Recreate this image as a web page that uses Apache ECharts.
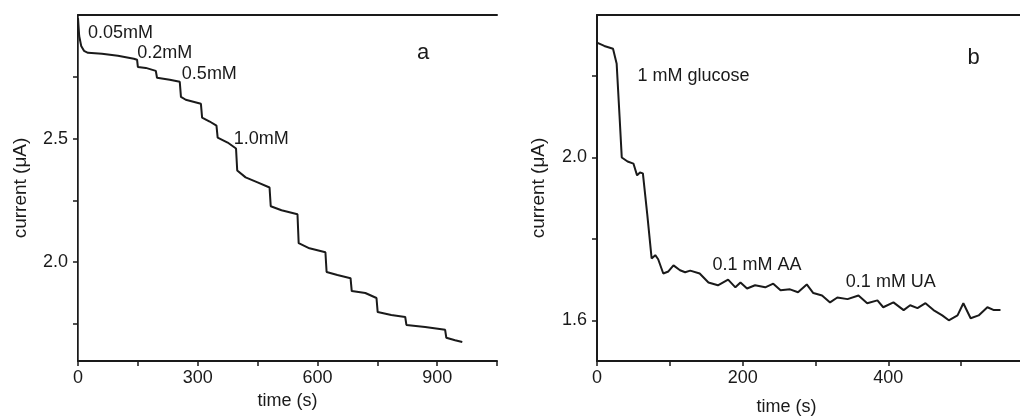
<!DOCTYPE html>
<html>
<head>
<meta charset="utf-8">
<script src="https://cdn.jsdelivr.net/npm/echarts@6/dist/echarts.min.js"></script>
<style>
  html, body { margin: 0; padding: 0; background: #fff; }
  #chart { width: 1020px; height: 419px; }
</style>
</head>
<body>
<div id="chart"></div>
<script>
// panel a: stepwise amperometric response, time (s) vs current (uA)
const timeA = [0, 3, 8, 15, 25, 60, 100, 140, 148, 150, 170, 195, 198, 230, 255, 258, 270, 308, 311, 330,
  347, 350, 375, 396, 399, 420, 450, 480, 483, 510, 550, 553, 580, 620, 623, 650, 683, 686, 720, 748,
  751, 785, 820, 823, 870, 920, 923, 945, 963]
const currentA = [2.988, 2.915, 2.875, 2.855, 2.847, 2.843, 2.835, 2.823, 2.819, 2.79, 2.786, 2.774, 2.746, 2.738, 2.73, 2.669, 2.657, 2.641, 2.585, 2.569,
  2.552, 2.504, 2.484, 2.46, 2.371, 2.343, 2.323, 2.302, 2.226, 2.21, 2.194, 2.077, 2.056, 2.04, 1.96, 1.948, 1.935, 1.883, 1.875, 1.855,
  1.798, 1.786, 1.778, 1.746, 1.738, 1.726, 1.694, 1.684, 1.677]

// panel b: glucose then interferents
const timeB = [0, 10, 22, 27, 31, 34, 42, 50, 55, 59, 63, 69, 75, 80, 84, 91, 98, 105, 114, 121,
  128, 141, 153, 166, 180, 190, 197, 206, 217, 231, 242, 252, 265, 276, 288, 297, 309, 320, 330, 344,
  359, 371, 385, 393, 407, 421, 430, 440, 451, 462, 474, 483, 495, 503, 513, 524, 536, 545, 554]
const currentB = [2.282, 2.274, 2.267, 2.23, 2.1, 2.0, 1.99, 1.985, 1.956, 1.963, 1.961, 1.86, 1.752, 1.76, 1.75, 1.715, 1.72, 1.735, 1.723, 1.718,
  1.722, 1.715, 1.693, 1.686, 1.7, 1.681, 1.693, 1.678, 1.686, 1.681, 1.69, 1.674, 1.676, 1.669, 1.688, 1.667, 1.661, 1.644, 1.656, 1.652,
  1.661, 1.642, 1.649, 1.632, 1.644, 1.625, 1.637, 1.63, 1.642, 1.625, 1.612, 1.6, 1.612, 1.642, 1.605, 1.612, 1.632, 1.625, 1.625]

const labelsA = ['0.05mM', '0.2mM', '0.5mM', '1.0mM', 'a']
const labelPosA = [[24, 2.927], [147, 2.847], [259, 2.762], [389, 2.5], [848, 2.847]]
const labelsB = ['1 mM glucose', '0.1 mM AA', '0.1 mM UA', 'b']
const labelPosB = [[55, 2.201], [158, 1.735], [341, 1.693], [508, 2.245]]

const yTicksA = [1.75, 2.0, 2.25, 2.5, 2.75]
const yLabelsA = [2.0, 2.5]
const yTicksB = [1.6, 1.8, 2.0, 2.2]
const yLabelsB = [1.6, 2.0]

const font = 'Liberation Sans, Arial, sans-serif'
const ink = '#1a1a1a'

function zip (xs, ys) {
  return xs.map((x, i) => [x, ys[i]])
}

function marks (names, pos) {
  return {
    symbol: 'circle',
    symbolSize: 1,
    itemStyle: { color: 'rgba(0,0,0,0)' },
    data: names.map((n, i) => ({
      coord: pos[i],
      value: n,
      label: {
        show: true,
        position: 'right',
        distance: 0,
        formatter: n,
        color: ink,
        fontFamily: font,
        fontSize: n.length === 1 ? 22 : 18
      }
    }))
  }
}

function bottomAxis (grid, max, interval, labelEvery, namePad) {
  return {
    type: 'value',
    gridIndex: grid,
    min: 0,
    max: max,
    interval: interval,
    name: 'time (s)',
    nameLocation: 'middle',
    nameGap: 25,
    nameTextStyle: { color: ink, fontFamily: font, fontSize: 18, padding: namePad },
    axisLine: { show: true, onZero: false, lineStyle: { color: ink, width: 2 } },
    axisTick: { show: true, length: 5, lineStyle: { color: ink, width: 1.5 } },
    axisLabel: {
      color: ink,
      fontFamily: font,
      fontSize: 18,
      margin: 8,
      formatter: v => (v % labelEvery === 0 && v < max) ? String(v) : ''
    },
    splitLine: { show: false }
  }
}

function topAxis (grid, max) {
  return {
    type: 'value',
    gridIndex: grid,
    position: 'top',
    min: 0,
    max: max,
    axisLine: { show: true, lineStyle: { color: ink, width: 2 } },
    axisTick: { show: false },
    axisLabel: { show: false },
    splitLine: { show: false }
  }
}

function leftAxis (grid, min, max, ticks, labels, gap) {
  return {
    type: 'value',
    gridIndex: grid,
    min: min,
    max: max,
    name: 'current (\u03bcA)',
    nameLocation: 'middle',
    nameGap: gap,
    nameTextStyle: { color: ink, fontFamily: font, fontSize: 19 },
    axisLine: { show: true, onZero: false, lineStyle: { color: ink, width: 2 } },
    axisTick: { show: true, length: 5, customValues: ticks, lineStyle: { color: ink, width: 1.5 } },
    axisLabel: {
      color: ink,
      fontFamily: font,
      fontSize: 18,
      margin: 10,
      customValues: labels,
      formatter: v => v.toFixed(1)
    },
    splitLine: { show: false }
  }
}

const chart = echarts.init(document.getElementById('chart'))
chart.setOption({
  animation: false,
  backgroundColor: '#fff',
  grid: [
    { left: 78, top: 15, right: 523, bottom: 58, outerBoundsMode: 'none' },
    { left: 597, top: 15, width: 437, bottom: 58, outerBoundsMode: 'none' }
  ],
  xAxis: [
    bottomAxis(0, 1050, 150, 300, [0, 0, 0, 0]),
    bottomAxis(1, 600, 100, 200, [12, 58, 0, 0]),
    topAxis(0, 1050),
    topAxis(1, 600)
  ],
  yAxis: [
    leftAxis(0, 1.6, 3.0, yTicksA, yLabelsA, 48),
    leftAxis(1, 1.5, 2.35, yTicksB, yLabelsB, 49),
    {
      type: 'value',
      gridIndex: 0,
      position: 'right',
      min: 1.6,
      max: 3.0,
      axisLine: { show: true, lineStyle: { color: '#555', width: 1 } },
      axisTick: { show: false },
      axisLabel: { show: false },
      splitLine: { show: false }
    }
  ],
  series: [
    {
      type: 'line',
      xAxisIndex: 0,
      yAxisIndex: 0,
      data: zip(timeA, currentA),
      showSymbol: false,
      lineStyle: { color: ink, width: 2 },
      markPoint: marks(labelsA, labelPosA)
    },
    {
      type: 'line',
      xAxisIndex: 1,
      yAxisIndex: 1,
      data: zip(timeB, currentB),
      showSymbol: false,
      lineStyle: { color: ink, width: 2 },
      markPoint: marks(labelsB, labelPosB)
    }
  ]
})
</script>
</body>
</html>
